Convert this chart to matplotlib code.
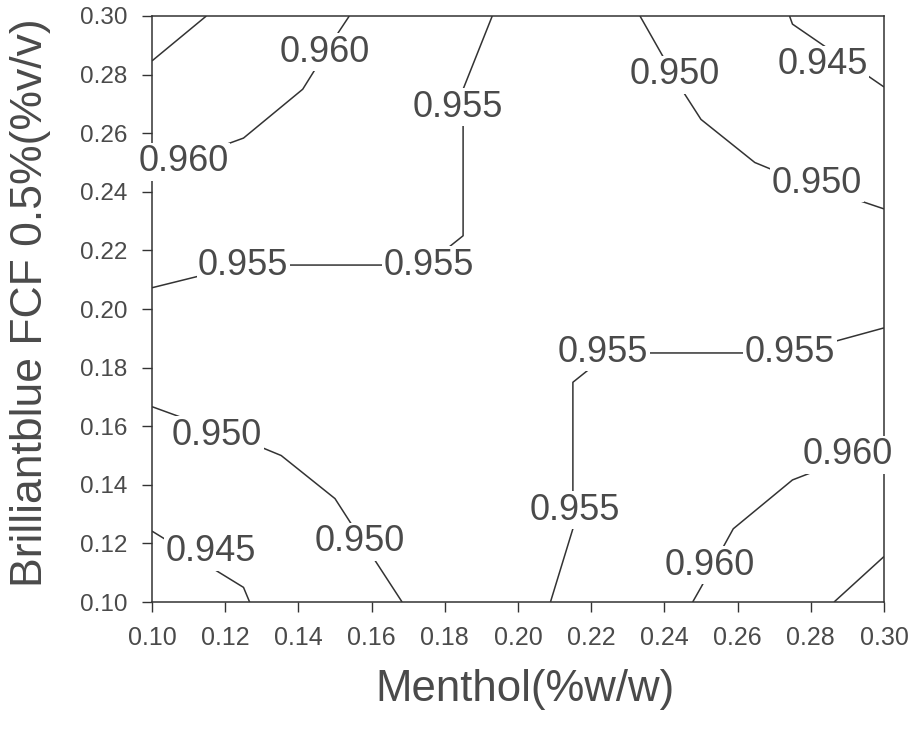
import numpy as np
import matplotlib
matplotlib.use('Agg')
import matplotlib.pyplot as plt

plt.rcParams['font.family'] = ['Liberation Sans', 'DejaVu Sans']

# factor levels of the response grid
MENTHOL = [0.100, 0.125, 0.150, 0.175, 0.200, 0.225, 0.250, 0.275, 0.300]
BRILLIANT_BLUE = [0.100, 0.125, 0.150, 0.175, 0.200, 0.225, 0.250, 0.275, 0.300]

# response, one row per Brilliantblue level (bottom -> top)
RESPONSE = [
    [0.9420, 0.9448, 0.9478, 0.9508, 0.9539, 0.9570, 0.9603, 0.9635, 0.9668],
    [0.9451, 0.9458, 0.9493, 0.9526, 0.9541, 0.9556, 0.9588, 0.9622, 0.9639],
    [0.9480, 0.9493, 0.9510, 0.9530, 0.9541, 0.9556, 0.9570, 0.9589, 0.9605],
    [0.9510, 0.9526, 0.9530, 0.9535, 0.9541, 0.9556, 0.9556, 0.9556, 0.9573],
    [0.9541, 0.9541, 0.9541, 0.9541, 0.9541, 0.9541, 0.9541, 0.9541, 0.9542],
    [0.9572, 0.9556, 0.9556, 0.9556, 0.9541, 0.9535, 0.9530, 0.9526, 0.9511],
    [0.9604, 0.9589, 0.9570, 0.9556, 0.9541, 0.9530, 0.9510, 0.9493, 0.9481],
    [0.9638, 0.9622, 0.9588, 0.9556, 0.9541, 0.9526, 0.9493, 0.9458, 0.9451],
    [0.9669, 0.9637, 0.9605, 0.9573, 0.9541, 0.9510, 0.9480, 0.9449, 0.9419],
]

LEVELS = [0.945, 0.950, 0.955, 0.960, 0.965]

# where the contour values are written (x, y, level)
LABELS = [
    (0.1473, 0.2877, 0.960), (0.1087, 0.2502, 0.960),
    (0.1249, 0.2150, 0.955), (0.1757, 0.2150, 0.955), (0.1836, 0.2689, 0.955),
    (0.2429, 0.2799, 0.950), (0.2833, 0.2833, 0.945), (0.2817, 0.2430, 0.950),
    (0.2232, 0.1853, 0.955), (0.2743, 0.1853, 0.955), (0.2902, 0.1502, 0.960),
    (0.2156, 0.1314, 0.955), (0.2525, 0.1126, 0.960),
    (0.1178, 0.1570, 0.950), (0.1568, 0.1205, 0.950), (0.1161, 0.1171, 0.945),
]

TICKS = [0.10, 0.12, 0.14, 0.16, 0.18, 0.20, 0.22, 0.24, 0.26, 0.28, 0.30]

INK = '#333333'
TEXT = '#4a4a4a'

fig = plt.figure(figsize=(9.13, 7.30), dpi=100)
ax = fig.add_axes([0.1665, 0.1753, 0.8017, 0.8028])

ax.contour(MENTHOL, BRILLIANT_BLUE, np.array(RESPONSE), levels=LEVELS,
           colors=INK, linewidths=1.1)

for x, y, lev in LABELS:
    ax.text(x, y, f'{lev:.3f}', fontsize=26, color=TEXT, ha='center', va='center',
            bbox=dict(facecolor='white', edgecolor='none', pad=1.0),
            zorder=4, clip_on=False)

ax.set_xlim(0.10, 0.30)
ax.set_ylim(0.10, 0.30)
ax.set_xticks(TICKS)
ax.set_yticks(TICKS)
ax.set_xticklabels([f'{t:.2f}' for t in TICKS])
ax.set_yticklabels([f'{t:.2f}' for t in TICKS])

ax.tick_params(direction='out', length=7.5, width=1, color=INK, labelcolor=TEXT)
ax.tick_params(axis='x', labelsize=18, pad=10)
ax.tick_params(axis='y', labelsize=17.5, pad=10)
for sp in ax.spines.values():
    sp.set_color(INK)
    sp.set_linewidth(1.1)

ax.set_xlabel('Menthol(%w/w)', fontsize=31.5, color=TEXT)
ax.set_ylabel('Brilliantblue FCF 0.5%(%v/v)', fontsize=32, color=TEXT)
ax.xaxis.set_label_coords(0.51, -0.150)
ax.xaxis.label.set_va('center')
ax.yaxis.set_label_coords(-0.166, 0.51)
ax.yaxis.label.set_va('center')

fig.savefig('out.png', dpi=100)
